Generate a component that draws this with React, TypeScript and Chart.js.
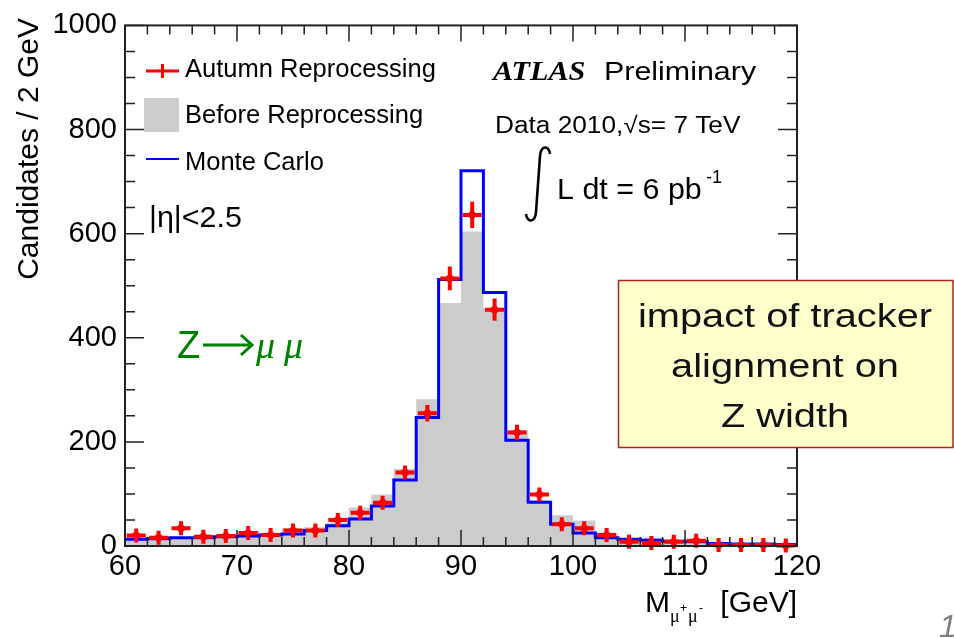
import { useEffect, useRef } from "react";
import { Chart, registerables } from "chart.js";

Chart.register(...registerables);

// Dimuon invariant mass bins, 2 GeV wide
const binCenters = [
  61, 63, 65, 67, 69, 71, 73, 75, 77, 79, 81, 83, 85, 87, 89,
  91, 93, 95, 97, 99, 101, 103, 105, 107, 109, 111, 113, 115, 117, 119,
];
const BIN_HALF_WIDTH = 1;

// Candidates per bin
const autumnReprocessing = [
  20, 16, 34, 18, 19, 25, 21, 30, 30, 50, 64, 83, 141, 255, 514,
  636, 454, 218, 99, 42, 34, 21, 8, 6, 8, 10, 2, 2, 2, 1,
];
const beforeReprocessing = [
  12, 11, 16, 13, 17, 29, 20, 34, 36, 44, 74, 99, 148, 282, 467,
  604, 457, 223, 88, 59, 49, 25, 14, 16, 10, 9, 6, 5, 4, 3,
];
const monteCarlo = [
  13, 14, 16, 16, 18, 19, 21, 23, 30, 39, 52, 77, 127, 247, 512,
  721, 487, 203, 84, 42, 25, 16, 13, 11, 9, 8, 5, 4, 4, 3,
];

const xTickValues = [60, 70, 80, 90, 100, 110, 120];
const yTickValues = [0, 200, 400, 600, 800, 1000];
const boxLines = ["impact of tracker", "alignment on", "Z width"];

const SANS = '"Liberation Sans", Arial, Helvetica, sans-serif';
const SERIF = '"Liberation Serif", "Times New Roman", serif';
const RED = "#ff0000";
const BLUE = "#0000ff";
const GREY = "#cccccc";
const GREEN = "#008000";

function histogramOutline(values: number[]) {
  const pts: { x: number; y: number }[] = [];
  binCenters.forEach((c, i) => {
    pts.push({ x: c - BIN_HALF_WIDTH, y: values[i] });
    pts.push({ x: c + BIN_HALF_WIDTH, y: values[i] });
  });
  return pts;
}

function drawText(
  ctx: CanvasRenderingContext2D,
  str: string,
  x: number,
  y: number,
  font: string,
  color = "#000",
  align: CanvasTextAlign = "left",
  sx = 1
) {
  ctx.save();
  ctx.font = font;
  ctx.fillStyle = color;
  ctx.textAlign = align;
  ctx.textBaseline = "alphabetic";
  ctx.translate(x, y);
  ctx.scale(sx, 1);
  ctx.fillText(str, 0, 0);
  ctx.restore();
}

function drawCross(ctx: CanvasRenderingContext2D, x: number, y: number, halfW: number, top: number, bottom: number) {
  ctx.save();
  ctx.strokeStyle = RED;
  ctx.lineWidth = 4;
  ctx.lineCap = "butt";
  ctx.beginPath();
  ctx.moveTo(x - halfW, y);
  ctx.lineTo(x + halfW, y);
  ctx.moveTo(x, top);
  ctx.lineTo(x, bottom);
  ctx.stroke();
  ctx.fillStyle = RED;
  ctx.beginPath();
  ctx.moveTo(x - 5.5, y);
  ctx.lineTo(x, y - 5.5);
  ctx.lineTo(x + 5.5, y);
  ctx.lineTo(x, y + 5.5);
  ctx.closePath();
  ctx.fill();
  ctx.restore();
}

const histogramDecor = {
  id: "histogramDecor",
  afterDatasetsDraw(chart: any) {
    const { ctx, chartArea: a, scales } = chart;
    const xs = scales.x;
    const ys = scales.y;

    // data points with Poisson error bars
    const meta = chart.getDatasetMeta(0);
    meta.data.forEach((el: any, i: number) => {
      const v = autumnReprocessing[i];
      const err = Math.sqrt(v);
      const x = el.x;
      const y = el.y;
      const left = xs.getPixelForValue(binCenters[i] - 0.85 * BIN_HALF_WIDTH);
      const right = xs.getPixelForValue(binCenters[i] + 0.85 * BIN_HALF_WIDTH);
      let top = ys.getPixelForValue(v + err);
      let bottom = ys.getPixelForValue(Math.max(v - err, 0));
      top = Math.min(top, y - 7);
      bottom = Math.max(bottom, y + 7);
      drawCross(ctx, x, y, (right - left) / 2, top, bottom);
    });

    // frame
    ctx.save();
    ctx.strokeStyle = "#222";
    ctx.lineWidth = 2;
    ctx.strokeRect(a.left, a.top, a.right - a.left, a.bottom - a.top);

    // inward ticks on all four sides
    ctx.lineWidth = 1.5;
    ctx.beginPath();
    for (let v = 0; v <= 1000; v += 50) {
      const py = ys.getPixelForValue(v);
      const len = v % 200 === 0 ? 19 : 10;
      ctx.moveTo(a.left, py);
      ctx.lineTo(a.left + len, py);
      ctx.moveTo(a.right, py);
      ctx.lineTo(a.right - len, py);
    }
    for (let v = 60; v <= 120; v += 2) {
      const px = xs.getPixelForValue(v);
      const len = v % 10 === 0 ? 16 : 9;
      ctx.moveTo(px, a.bottom);
      ctx.lineTo(px, a.bottom - len);
      ctx.moveTo(px, a.top);
      ctx.lineTo(px, a.top + len);
    }
    ctx.stroke();
    ctx.restore();
  },
  afterDraw(chart: any) {
    const { ctx } = chart;

    // y-axis title, right-aligned at the top of the axis
    ctx.save();
    ctx.translate(38, 18);
    ctx.rotate(-Math.PI / 2);
    ctx.font = `30px ${SANS}`;
    ctx.fillStyle = "#000";
    ctx.textAlign = "right";
    ctx.textBaseline = "alphabetic";
    ctx.fillText("Candidates / 2 GeV", 0, 0);
    ctx.restore();

    // x-axis title
    drawText(ctx, "M", 645, 612, `30px ${SANS}`);
    drawText(ctx, "\u03bc", 670, 622, `18px ${SERIF}`);
    drawText(ctx, "+", 680, 612, `12px ${SANS}`);
    drawText(ctx, "\u03bc", 688, 622, `18px ${SERIF}`);
    drawText(ctx, "-", 699, 612, `12px ${SANS}`);
    drawText(ctx, "[GeV]", 797, 612, `30px ${SANS}`, "#000", "right");

    // legend
    ctx.save();
    ctx.strokeStyle = RED;
    ctx.lineWidth = 3;
    ctx.beginPath();
    ctx.moveTo(146, 71);
    ctx.lineTo(179, 71);
    ctx.moveTo(162.5, 64);
    ctx.lineTo(162.5, 78);
    ctx.stroke();
    ctx.fillStyle = GREY;
    ctx.fillRect(144, 98, 35, 34);
    ctx.strokeStyle = BLUE;
    ctx.lineWidth = 2;
    ctx.beginPath();
    ctx.moveTo(146, 159);
    ctx.lineTo(179, 159);
    ctx.stroke();
    ctx.restore();
    drawText(ctx, "Autumn Reprocessing", 185, 77, `25.5px ${SANS}`);
    drawText(ctx, "Before Reprocessing", 185, 123, `25.5px ${SANS}`);
    drawText(ctx, "Monte Carlo", 185, 170, `25.5px ${SANS}`);

    // pseudorapidity cut
    drawText(ctx, "|\u03b7|<2.5", 149, 227, `29px ${SANS}`, "#000", "left", 1.05);

    // experiment labels
    drawText(ctx, "ATLAS", 493, 80, `italic bold 28px ${SERIF}`, "#000", "left", 1.08);
    drawText(ctx, "Preliminary", 604, 80, `26px ${SANS}`, "#000", "left", 1.17);
    drawText(ctx, "Data 2010,\u221as= 7 TeV", 495, 133, `23px ${SANS}`, "#000", "left", 1.14);

    // integral sign
    ctx.save();
    ctx.strokeStyle = "#000";
    ctx.lineWidth = 2.6;
    ctx.beginPath();
    ctx.moveTo(550, 154);
    ctx.bezierCurveTo(549, 145, 541, 145, 540, 156);
    ctx.lineTo(536, 212);
    ctx.bezierCurveTo(535, 223, 527, 223, 526, 214);
    ctx.stroke();
    ctx.restore();
    drawText(ctx, "L dt = 6 pb", 557, 199, `29px ${SANS}`, "#000", "left", 1.05);
    drawText(ctx, "-1", 706, 183, `18px ${SANS}`);

    // process label
    drawText(ctx, "Z", 177, 358, `38px ${SANS}`, GREEN);
    ctx.save();
    ctx.strokeStyle = GREEN;
    ctx.lineWidth = 3;
    ctx.beginPath();
    ctx.moveTo(203, 345);
    ctx.lineTo(251, 345);
    ctx.moveTo(241, 335);
    ctx.lineTo(252, 345);
    ctx.lineTo(241, 355);
    ctx.stroke();
    ctx.restore();
    drawText(ctx, "\u03bc", 256, 358, `italic 38px ${SERIF}`, GREEN);
    drawText(ctx, "\u03bc", 284, 358, `italic 38px ${SERIF}`, GREEN);

    // note box
    ctx.save();
    ctx.fillStyle = "#ffffcc";
    ctx.fillRect(618, 280, 336, 168);
    ctx.strokeStyle = "#b22222";
    ctx.lineWidth = 1.5;
    ctx.strokeRect(618.5, 280.5, 334.5, 167);
    ctx.restore();
    boxLines.forEach((line, i) => {
      drawText(ctx, line, 785, 327 + i * 50, `34px ${SANS}`, "#111", "center", 1.17);
    });

    // page number
    drawText(ctx, "1", 939, 637, `italic 32px ${SANS}`, "#808080");
  },
};

export default function App() {
  const canvasRef = useRef<HTMLCanvasElement | null>(null);

  useEffect(() => {
    const canvas = canvasRef.current;
    if (!canvas) return;
    const chart = new Chart(canvas, {
      type: "line",
      data: {
        datasets: [
          {
            label: "Autumn Reprocessing",
            data: binCenters.map((c, i) => ({ x: c, y: autumnReprocessing[i] })),
            showLine: false,
            pointRadius: 0,
            borderColor: RED,
            backgroundColor: RED,
            order: 0,
          },
          {
            label: "Monte Carlo",
            data: histogramOutline(monteCarlo),
            borderColor: BLUE,
            borderWidth: 3,
            borderJoinStyle: "miter",
            pointRadius: 0,
            fill: false,
            tension: 0,
            order: 1,
          },
          {
            label: "Before Reprocessing",
            data: histogramOutline(beforeReprocessing),
            borderWidth: 0,
            borderColor: GREY,
            backgroundColor: GREY,
            pointRadius: 0,
            fill: "origin",
            tension: 0,
            order: 2,
          },
        ],
      },
      options: {
        responsive: false,
        animation: false,
        events: [],
        layout: { padding: { left: 0, top: 19, right: 157, bottom: 0 } },
        plugins: {
          legend: { display: false },
          tooltip: { enabled: false },
        },
        scales: {
          x: {
            type: "linear",
            min: 60,
            max: 120,
            grid: { display: false, drawTicks: false },
            border: { display: false },
            afterBuildTicks: (s: any) => {
              s.ticks = xTickValues.map((v) => ({ value: v }));
            },
            afterFit: (s: any) => {
              s.height = 92;
            },
            ticks: {
              color: "#000",
              padding: 4,
              maxRotation: 0,
              font: { family: SANS, size: 29 },
              callback: (v: any) => String(v),
            },
          },
          y: {
            type: "linear",
            min: 0,
            max: 1000,
            grid: { display: false, drawTicks: false },
            border: { display: false },
            afterBuildTicks: (s: any) => {
              s.ticks = yTickValues.map((v) => ({ value: v }));
            },
            afterFit: (s: any) => {
              s.width = 125;
            },
            ticks: {
              color: "#000",
              padding: 8,
              font: { family: SANS, size: 29 },
              callback: (v: any) => String(v),
            },
          },
        },
      },
      plugins: [histogramDecor],
    } as any);
    return () => chart.destroy();
  }, []);

  return (
    <div style={{ position: "fixed", left: 0, top: 0, width: 954, height: 638, background: "#fff" }}>
      <canvas ref={canvasRef} width={954} height={638} style={{ display: "block" }} />
    </div>
  );
}
